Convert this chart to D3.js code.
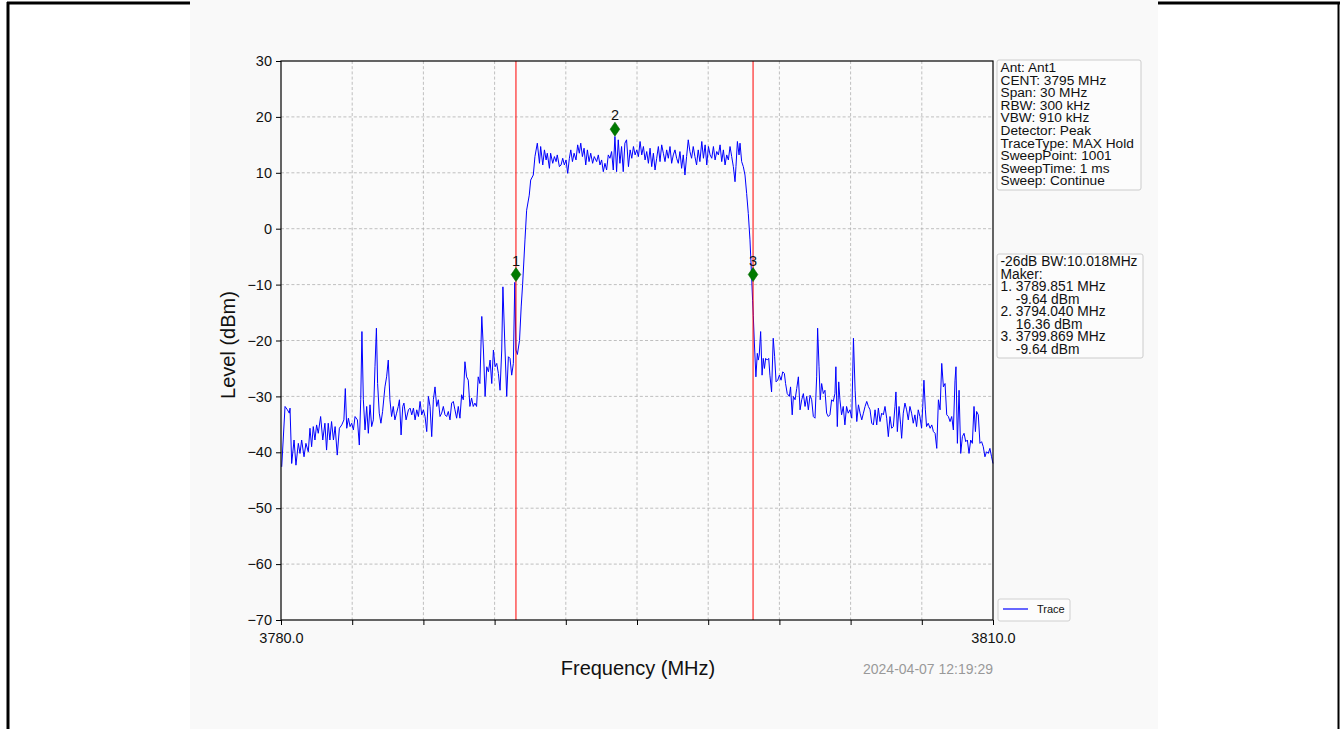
<!DOCTYPE html>
<html>
<head>
<meta charset="utf-8">
<script src="https://cdn.jsdelivr.net/npm/d3@7"></script>
<style>
  html, body { margin: 0; padding: 0; background: #ffffff; }
  svg { display: block; font-family: "Liberation Sans", Arial, sans-serif; }
</style>
</head>
<body>
<svg id="chart" width="1340" height="729"></svg>
<script>
// ---------------- DATA ----------------
const freq = [
3780.03,3780.17,3780.27,3780.35,3780.38,3780.45,3780.55,3780.63,3780.73,3780.80,3780.87,3780.97,3781.05,3781.15,3781.22,3781.29,3781.36,3781.43,3781.50,3781.57,
3781.67,3781.76,3781.85,3781.92,3781.99,3782.06,3782.13,3782.21,3782.28,3782.37,3782.46,3782.56,3782.65,3782.71,3782.77,3782.84,3782.91,3782.98,3783.05,3783.12,
3783.22,3783.30,3783.36,3783.41,3783.47,3783.54,3783.61,3783.68,3783.75,3783.82,3783.89,3783.96,3784.02,3784.07,3784.14,3784.21,3784.28,3784.38,3784.45,3784.52,
3784.59,3784.66,3784.73,3784.80,3784.87,3784.94,3784.99,3785.06,3785.13,3785.18,3785.27,3785.37,3785.44,3785.51,3785.58,3785.65,3785.72,3785.79,3785.86,3785.93,
3786.00,3786.07,3786.14,3786.21,3786.28,3786.35,3786.42,3786.49,3786.56,3786.63,3786.70,3786.77,3786.84,3786.91,3786.98,3787.05,3787.12,3787.19,3787.26,3787.33,
3787.40,3787.47,3787.54,3787.61,3787.68,3787.75,3787.82,3787.89,3787.96,3788.03,3788.10,3788.17,3788.24,3788.31,3788.38,3788.46,3788.53,3788.60,3788.67,3788.74,
3788.81,3788.88,3788.95,3789.02,3789.09,3789.16,3789.23,3789.30,3789.35,3789.44,3789.51,3789.58,3789.65,3789.72,3789.79,3789.85,3789.90,3789.96,3790.05,3790.12,
3790.18,3790.28,3790.35,3790.46,3790.52,3790.63,3790.70,3790.80,3790.89,3790.94,3791.03,3791.10,3791.17,3791.22,3791.31,3791.36,3791.45,3791.52,3791.59,3791.64,
3791.73,3791.80,3791.87,3791.94,3792.01,3792.08,3792.15,3792.21,3792.28,3792.35,3792.43,3792.50,3792.57,3792.63,3792.70,3792.77,3792.84,3792.91,3792.98,3793.05,
3793.13,3793.20,3793.30,3793.37,3793.44,3793.51,3793.58,3793.65,3793.72,3793.79,3793.86,3793.93,3794.00,3794.07,3794.14,3794.21,3794.28,3794.35,3794.42,3794.49,
3794.56,3794.64,3794.71,3794.78,3794.85,3794.92,3794.99,3795.06,3795.13,3795.20,3795.27,3795.34,3795.41,3795.48,3795.55,3795.62,3795.69,3795.76,3795.83,3795.90,
3795.97,3796.04,3796.11,3796.18,3796.25,3796.32,3796.39,3796.46,3796.53,3796.60,3796.67,3796.74,3796.81,3796.88,3796.95,3797.02,3797.09,3797.16,3797.23,3797.30,
3797.37,3797.44,3797.51,3797.58,3797.65,3797.73,3797.80,3797.87,3797.94,3798.01,3798.08,3798.15,3798.22,3798.29,3798.36,3798.43,3798.50,3798.57,3798.64,3798.71,
3798.78,3798.85,3798.92,3798.99,3799.06,3799.13,3799.17,3799.23,3799.30,3799.34,3799.41,3799.48,3799.55,3799.62,3799.69,3799.76,3799.83,3799.87,3799.90,3799.94,
3800.01,3800.07,3800.11,3800.15,3800.21,3800.27,3800.32,3800.37,3800.42,3800.49,3800.55,3800.60,3800.67,3800.74,3800.80,3800.86,3800.93,3801.00,3801.07,3801.14,
3801.21,3801.26,3801.33,3801.42,3801.47,3801.54,3801.59,3801.66,3801.73,3801.80,3801.87,3801.94,3802.01,3802.08,3802.15,3802.22,3802.29,3802.36,3802.43,3802.50,
3802.57,3802.61,3802.67,3802.72,3802.78,3802.85,3802.92,3802.99,3803.06,3803.13,3803.20,3803.27,3803.34,3803.38,3803.44,3803.50,3803.55,3803.62,3803.69,3803.76,
3803.83,3803.90,3803.97,3804.05,3804.12,3804.19,3804.26,3804.33,3804.40,3804.47,3804.54,3804.61,3804.68,3804.75,3804.82,3804.89,3804.96,3805.03,3805.10,3805.17,
3805.24,3805.31,3805.38,3805.45,3805.52,3805.59,3805.66,3805.73,3805.80,3805.87,3805.91,3805.97,3806.04,3806.11,3806.15,3806.22,3806.29,3806.36,3806.43,3806.50,
3806.57,3806.64,3806.71,3806.78,3806.85,3806.92,3806.99,3807.04,3807.09,3807.15,3807.20,3807.27,3807.35,3807.42,3807.49,3807.56,3807.63,3807.70,3807.77,3807.84,
3807.91,3807.98,3808.05,3808.12,3808.19,3808.26,3808.33,3808.40,3808.44,3808.50,3808.57,3808.64,3808.71,3808.78,3808.85,3808.92,3808.99,3809.06,3809.13,3809.20,
3809.26,3809.31,3809.38,3809.45,3809.52,3809.59,3809.66,3809.73,3809.80,3809.87,3809.94,3810.00
];
const level = [
-42.6,-31.8,-32.4,-33.0,-32.1,-42.0,-37.8,-42.3,-38.4,-40.2,-37.8,-40.8,-38.4,-39.9,-35.7,-39.0,-35.4,-37.8,-35.1,-36.6,
-33.6,-37.8,-34.8,-39.6,-34.8,-37.8,-34.5,-37.8,-35.4,-40.5,-35.7,-35.1,-34.2,-28.6,-35.7,-33.9,-35.4,-34.8,-36.0,-33.6,
-34.2,-38.7,-30.6,-18.4,-30.6,-36.0,-31.8,-36.6,-31.5,-35.4,-34.2,-24.7,-17.8,-27.7,-33.0,-34.8,-32.7,-28.3,-26.5,-23.5,
-30.6,-33.6,-31.8,-34.2,-33.0,-31.8,-30.6,-36.9,-31.8,-31.2,-34.2,-32.4,-32.1,-33.3,-32.1,-34.2,-32.4,-33.6,-30.9,-33.3,
-32.4,-33.6,-36.3,-30.0,-31.8,-37.2,-30.6,-28.3,-31.8,-30.6,-33.6,-33.0,-31.8,-33.3,-33.6,-32.7,-34.2,-31.2,-30.9,-32.4,
-33.9,-31.8,-33.9,-29.7,-30.6,-23.8,-26.5,-27.1,-31.8,-30.3,-31.8,-31.2,-31.8,-26.5,-27.7,-15.7,-21.7,-30.0,-24.7,-25.6,
-23.5,-27.7,-21.7,-24.7,-24.1,-25.9,-28.9,-21.7,-10.4,-21.7,-30.0,-22.9,-23.2,-26.2,-24.1,-9.6,-21.7,-22.5,-20.0,-14.0,
-10.0,-2.0,3.3,6.0,8.7,9.6,12.9,15.3,11.7,14.7,11.4,14.1,12.3,13.5,10.8,13.5,11.7,12.9,12.0,13.2,
11.1,11.4,12.6,11.4,12.3,9.9,12.6,14.1,12.0,13.5,12.3,15.0,13.5,15.3,12.9,14.4,11.4,14.1,12.0,13.5,
11.7,12.9,12.0,13.2,11.4,12.3,10.2,11.7,10.5,13.2,12.6,13.8,10.5,16.5,10.2,15.9,11.7,14.7,10.2,15.3,
15.9,11.1,14.1,12.6,14.7,13.2,14.1,12.9,15.6,13.2,14.7,12.3,13.8,11.7,14.4,11.1,13.5,10.5,12.6,14.7,
12.0,15.0,13.5,12.0,14.1,12.6,14.7,11.7,13.2,14.1,12.6,11.7,13.8,10.8,13.2,9.6,12.9,15.9,13.8,12.6,
14.7,12.9,11.4,14.1,12.0,15.6,12.6,15.0,11.4,14.7,13.2,12.6,14.7,12.3,13.8,13.2,15.0,12.0,14.1,11.4,
13.2,12.3,14.7,12.9,11.1,8.4,11.1,15.6,13.2,15.3,12.0,11.1,9.6,6.3,2.7,-2.0,-8.6,-12.8,-15.5,-19.9,
-26.5,-22.3,-23.5,-22.6,-18.4,-26.2,-23.2,-25.0,-23.2,-23.5,-23.2,-26.2,-29.2,-19.6,-22.9,-27.4,-27.1,-26.2,-27.1,-25.6,
-25.9,-27.7,-29.5,-30.0,-28.3,-33.3,-30.0,-30.6,-28.6,-26.5,-32.4,-30.6,-29.5,-31.8,-30.0,-32.4,-29.8,-30.6,-33.6,-33.9,
-26.5,-17.8,-24.7,-30.6,-27.7,-29.5,-28.9,-33.0,-33.6,-33.3,-30.6,-30.9,-29.5,-24.7,-35.4,-27.4,-30.6,-33.3,-31.8,-35.1,
-31.8,-33.0,-32.4,-33.9,-19.6,-28.9,-34.5,-31.5,-33.0,-34.2,-33.0,-31.8,-30.9,-31.8,-32.4,-34.8,-35.1,-32.4,-35.1,-32.1,
-34.5,-33.0,-33.3,-31.8,-33.9,-37.2,-33.6,-35.7,-35.4,-31.8,-29.2,-36.3,-31.8,-35.1,-37.5,-33.0,-31.2,-32.4,-34.2,-31.8,
-33.0,-34.8,-33.3,-35.4,-32.4,-33.6,-35.7,-31.8,-27.1,-32.4,-35.4,-34.8,-35.7,-35.1,-36.3,-36.6,-39.3,-30.6,-32.4,-24.1,
-28.3,-27.7,-33.3,-33.6,-34.5,-33.6,-36.0,-27.1,-24.7,-38.4,-28.9,-40.2,-37.2,-36.6,-38.1,-37.8,-40.2,-37.8,-38.4,-31.8,
-36.3,-32.7,-33.3,-38.4,-38.1,-39.0,-40.8,-39.9,-40.2,-39.3,-40.8,-42.0
];

const xDomain = [3780, 3810];
const yDomain = [-70, 30];
const xTicks = [3780,3783,3786,3789,3792,3795,3798,3801,3804,3807,3810];
const xLabeled = [3780, 3810];
const yTicks = [30,20,10,0,-10,-20,-30,-40,-50,-60,-70];

// markers as drawn in the picture (frequency, level of the diamond)
const markerNames = ["1","2","3"];
const markerFreq  = [3789.90, 3794.07, 3799.89];
const markerShown = [-8.2, 17.8, -8.2];
const lineMarkers = [3789.90, 3799.89];

const infoLines = ["Ant: Ant1","CENT: 3795 MHz","Span: 30 MHz","RBW: 300 kHz","VBW: 910 kHz",
  "Detector: Peak","TraceType: MAX Hold","SweepPoint: 1001","SweepTime: 1 ms","Sweep: Continue"];
const markerLines = ["-26dB BW:10.018MHz","Maker:","1. 3789.851 MHz","    -9.64 dBm",
  "2. 3794.040 MHz","    16.36 dBm","3. 3799.869 MHz","    -9.64 dBm"];
const legendName = "Trace";
const timeStamp = "2024-04-07 12:19:29";

// ---------------- DRAW ----------------
const svg = d3.select("#chart");
const L = 281, R = 993, T = 61, B = 620;

// page frame
svg.append("rect").attr("x",0).attr("y",0).attr("width",1340).attr("height",729).attr("fill","#ffffff");
svg.append("line").attr("x1",8).attr("x2",8).attr("y1",2).attr("y2",729).attr("stroke","#000").attr("stroke-width",3);
svg.append("line").attr("x1",7).attr("x2",1340).attr("y1",3).attr("y2",3).attr("stroke","#000").attr("stroke-width",3);
svg.append("line").attr("x1",1338.5).attr("x2",1338.5).attr("y1",2).attr("y2",729).attr("stroke","#000").attr("stroke-width",2);
// figure image area
svg.append("rect").attr("x",190).attr("y",0).attr("width",968).attr("height",729).attr("fill","#f9f9f9");

const x = d3.scaleLinear().domain(xDomain).range([L, R]);
const y = d3.scaleLinear().domain(yDomain).range([B, T]);

svg.append("rect").attr("x",L).attr("y",T).attr("width",R-L).attr("height",B-T).attr("fill","#fbfbfb");

// grid
const grid = svg.append("g").attr("stroke","#b0b0b0").attr("stroke-width",0.8).attr("stroke-dasharray","3,2.2");
grid.selectAll("line.v").data(xTicks.filter(d => d>xDomain[0] && d<xDomain[1])).enter().append("line")
  .attr("x1",d=>x(d)).attr("x2",d=>x(d)).attr("y1",T).attr("y2",B);
grid.selectAll("line.h").data(yTicks.filter(d => d>yDomain[0] && d<yDomain[1])).enter().append("line")
  .attr("x1",L).attr("x2",R).attr("y1",d=>y(d)).attr("y2",d=>y(d));

// trace
const pts = freq.map((f,i)=>[f, level[i]]);
svg.append("path").datum(pts)
  .attr("fill","none").attr("stroke","#0000ff").attr("stroke-width",1)
  .attr("stroke-linejoin","round")
  .attr("d", d3.line().x(d=>x(d[0])).y(d=>y(d[1])));

// red marker lines
svg.selectAll("line.red").data(lineMarkers).enter().append("line")
  .attr("x1",d=>x(d)).attr("x2",d=>x(d)).attr("y1",T).attr("y2",B)
  .attr("stroke","#ff0000").attr("stroke-width",1);

// markers
const mk = svg.append("g");
markerFreq.forEach((f,i)=>{
  const cx = x(f), cy = y(markerShown[i]);
  mk.append("path").attr("d",`M${cx},${cy-7} L${cx+4.8},${cy} L${cx},${cy+7} L${cx-4.8},${cy} Z`)
    .attr("fill","#007a00").attr("stroke","#006400").attr("stroke-width",0.6);
  mk.append("text").attr("x",cx).attr("y",cy-9).attr("text-anchor","middle")
    .attr("font-size","14.5px").attr("fill","#111").text(markerNames[i]);
});

// axes
const yAxis = d3.axisLeft(y).tickValues(yTicks).tickSize(5).tickPadding(4);
const gy = svg.append("g").attr("transform",`translate(${L},0)`).call(yAxis);
const xAxis = d3.axisBottom(x).tickValues(xTicks).tickSize(5).tickPadding(8)
  .tickFormat(d => xLabeled.includes(d) ? d3.format(".1f")(d) : "");
const gx = svg.append("g").attr("transform",`translate(0,${B})`).call(xAxis);
[gx, gy].forEach(g=>{
  g.select(".domain").remove();
  g.selectAll(".tick line").attr("stroke","#000").attr("stroke-width",1);
  g.selectAll(".tick text").attr("font-size","14.5px").attr("fill","#111")
    .attr("font-family",'"Liberation Sans", Arial, sans-serif');
});

// spines
svg.append("rect").attr("x",L).attr("y",T).attr("width",R-L).attr("height",B-T)
  .attr("fill","none").attr("stroke","#000").attr("stroke-width",1.2);

// axis titles
svg.append("text").attr("x",638).attr("y",675).attr("text-anchor","middle")
  .attr("font-size","20px").attr("fill","#111").text("Frequency (MHz)");
svg.append("text").attr("transform","translate(235,345) rotate(-90)").attr("text-anchor","middle")
  .attr("font-size","20px").attr("fill","#111").text("Level (dBm)");

// timestamp
svg.append("text").attr("x",993).attr("y",674).attr("text-anchor","end")
  .attr("font-size","14px").attr("fill","#999").text(timeStamp);

// text boxes
function textBox(lines, x0, y0, w, h, lh, fs) {
  const g = svg.append("g");
  g.append("rect").attr("x",x0).attr("y",y0).attr("width",w).attr("height",h)
    .attr("rx",2).attr("fill","#fcfcfc").attr("stroke","#cccccc").attr("stroke-width",1);
  g.selectAll("text").data(lines).enter().append("text")
    .attr("x",x0+3.5).attr("y",(d,i)=>y0+12+i*lh)
    .attr("font-size",fs+"px").attr("fill","#111").attr("xml:space","preserve")
    .style("white-space","pre").text(d=>d);
}
textBox(infoLines, 997, 60, 144, 130, 12.6, 13.7);
textBox(markerLines, 997, 254, 146, 104, 12.5, 13.8);

// legend
const lg = svg.append("g");
lg.append("rect").attr("x",998).attr("y",599).attr("width",72).attr("height",22).attr("rx",2)
  .attr("fill","#fcfcfc").attr("stroke","#d0d0d0");
lg.append("line").attr("x1",1003).attr("x2",1028).attr("y1",609).attr("y2",609)
  .attr("stroke","#0000ff").attr("stroke-width",1.2);
lg.append("text").attr("x",1037).attr("y",613).attr("font-size","11px").attr("fill","#111").text(legendName);
</script>
</body>
</html>
